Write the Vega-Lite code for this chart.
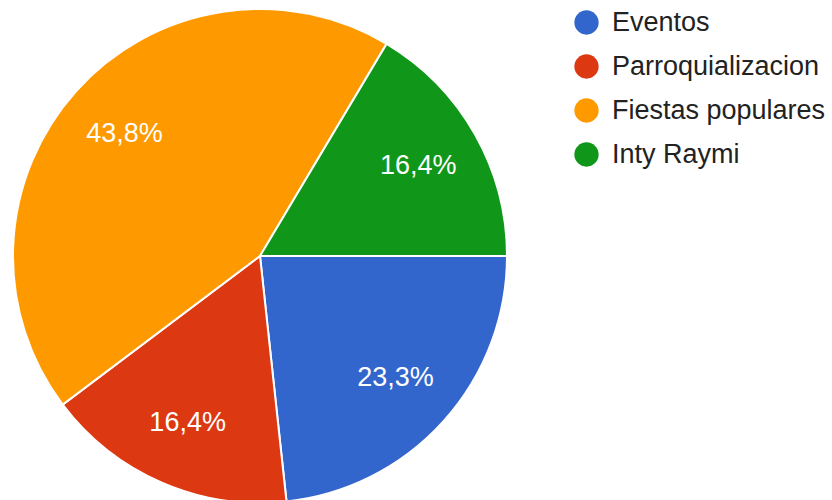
{
  "$schema": "https://vega.github.io/schema/vega-lite/v6.json",
  "width": 520,
  "height": 512,
  "padding": 0,
  "background": "white",
  "data": {
    "values": [
      {"cat": "Eventos", "count": 17, "pct": 0.233, "idx": 1},
      {"cat": "Parroquializacion", "count": 12, "pct": 0.164, "idx": 2},
      {"cat": "Fiestas populares", "count": 32, "pct": 0.438, "idx": 3},
      {"cat": "Inty Raymi", "count": 12, "pct": 0.164, "idx": 4}
    ]
  },
  "encoding": {
    "theta": {"field": "count", "type": "quantitative", "stack": true, "scale": {"range": [1.5708, 7.854]}},
    "order": {"field": "idx", "type": "quantitative"}
  },
  "layer": [
    {
      "mark": {"type": "arc", "outerRadius": 247, "stroke": "white", "strokeWidth": 2},
      "encoding": {
        "color": {
          "field": "cat",
          "type": "nominal",
          "sort": ["Eventos", "Parroquializacion", "Fiestas populares", "Inty Raymi"],
          "scale": {
            "domain": ["Eventos", "Parroquializacion", "Fiestas populares", "Inty Raymi"],
            "range": ["#3366cc", "#dc3912", "#ff9900", "#109618"]
          },
          "legend": {
            "orient": "none",
            "legendX": 573,
            "legendY": 9,
            "title": null,
            "symbolType": "circle",
            "symbolSize": 590,
            "symbolStrokeWidth": 0,
            "symbolOpacity": 1,
            "labelFont": "Liberation Sans",
            "labelFontSize": 27,
            "labelColor": "#222222",
            "labelOffset": 12,
            "labelLimit": 400,
            "rowPadding": 16,
            "padding": 0
          }
        }
      }
    },
    {
      "mark": {"type": "text", "radius": 182, "font": "Liberation Sans", "fontSize": 27, "fill": "white", "baseline": "middle", "align": "center"},
      "encoding": {
        "detail": {"field": "cat", "type": "nominal"},
        "text": {"field": "pct", "type": "quantitative", "format": ".1%"}
      }
    }
  ],
  "config": {
    "view": {"stroke": null},
    "locale": {"number": {"decimal": ",", "thousands": ".", "grouping": [3], "currency": ["", " €"]}}
  }
}
